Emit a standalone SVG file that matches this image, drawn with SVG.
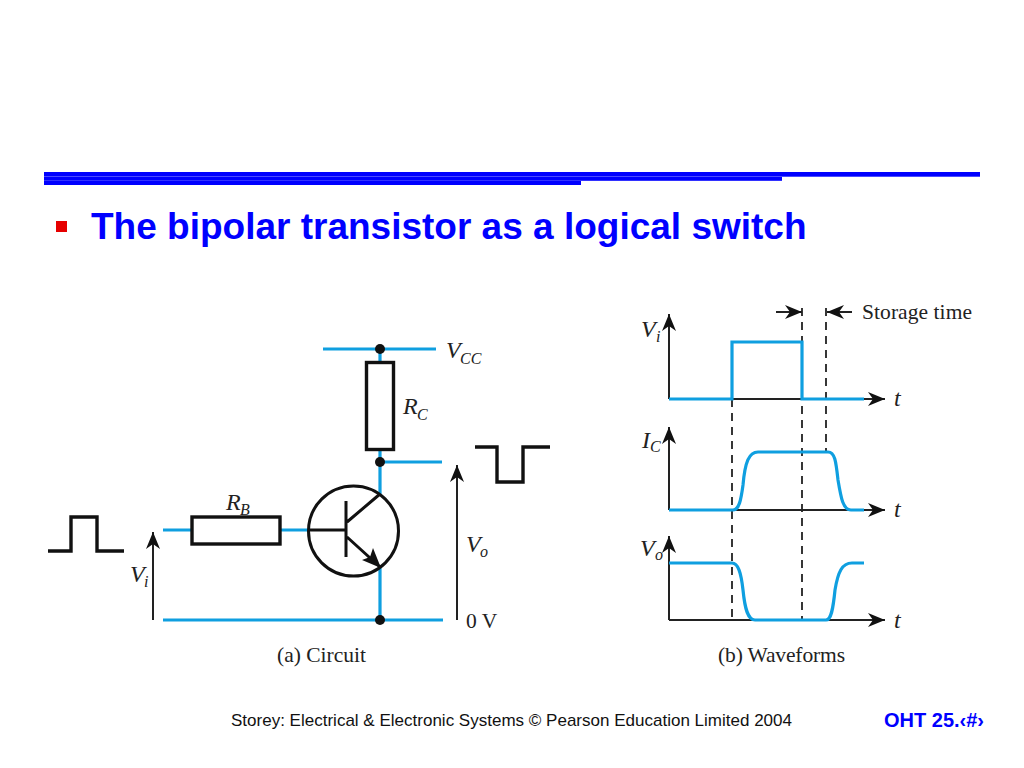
<svg xmlns="http://www.w3.org/2000/svg" width="1024" height="768" viewBox="0 0 1024 768">
<style>
.w{fill:none;stroke:#0f9fe0;stroke-width:3.2}
.k{fill:none;stroke:#111;stroke-width:3.4}
.t{fill:none;stroke:#222;stroke-width:2}
.d{fill:none;stroke:#222;stroke-width:1.8;stroke-dasharray:8 6}
.s{font-family:"Liberation Serif",serif;fill:#222;font-size:21.5px}
.i{font-family:"Liberation Serif",serif;fill:#222;font-size:24px;font-style:italic}
.u{font-family:"Liberation Serif",serif;fill:#222;font-size:16px;font-style:italic}
.f{font-family:"Liberation Sans",sans-serif}
</style>
<defs>
<marker id="a" markerUnits="userSpaceOnUse" markerWidth="18" markerHeight="14" refX="17" refY="7" orient="auto"><path d="M0 0L17 7L0 14L5 7Z" fill="#111"/></marker>
</defs>
<g id="header">
<rect x="44" y="172" width="936" height="4.700" fill="#0000ff"/>
<rect x="44" y="177" width="738" height="3.800" fill="#0000ff"/>
<rect x="44" y="181" width="537" height="4" fill="#0000ff"/>
<rect x="56" y="221" width="11" height="11" fill="#e60000"/>
<text x="91" y="239" class="f" font-size="37" font-weight="700" fill="#0000ff">The bipolar transistor as a logical switch</text>
</g>
<g id="connectors">
<path class="w" d="M323 349H436M380 349V362M380 449V494M380 567V620M380 462H442M163 530H192M280 530H308M163 620H443"/>
<path class="k" d="M48 551H71V517H97V551H124"/>
<path class="k" d="M475 447H497V482H523V447H550"/>
<path class="t" d="M153 620V532" marker-end="url(#a)"/>
<path class="t" d="M457 620V465" marker-end="url(#a)"/>
</g>
<g id="resistor-rc"><rect x="366.500" y="362.500" width="27" height="87" fill="#fff" class="k"/><text x="403" y="414" class="i">R</text><text x="417" y="420" class="u">C</text></g>
<g id="resistor-rb"><rect x="192" y="517" width="88" height="27" fill="#fff" class="k"/><text x="226" y="510" class="i">R</text><text x="240" y="515" class="u">B</text></g>
<g id="transistor">
<circle cx="353.500" cy="531" r="45" fill="none" stroke="#111" stroke-width="3"/>
<path fill="none" stroke="#111" stroke-width="3" d="M308 530H346M346 501V557M347 522L380 494M347 537L380 567"/>
<path d="M381 568L373 548L370 557L362 560Z" fill="#111"/>
</g>
<g id="junctions" fill="#111"><circle cx="380" cy="349" r="5"/><circle cx="380" cy="462" r="5"/><circle cx="380" cy="620" r="5"/></g>
<g id="circuit-labels">
<text x="446" y="358" class="i">V</text><text x="460" y="364" class="u">CC</text>
<text x="466" y="552" class="i">V</text><text x="480" y="557" class="u" font-size="12">o</text>
<text x="130" y="582" class="i">V</text><text x="144" y="587" class="u">i</text>
<text x="466" y="628" class="s">0 V</text>
<text x="277" y="662" class="s">(a) Circuit</text>
</g>
<g id="waveforms">
<path class="d" d="M732 399V620M802 308V620M826 308V452"/>
<path class="t" d="M669 399V314" marker-end="url(#a)"/>
<path class="t" d="M669 399H885" marker-end="url(#a)"/>
<path class="t" d="M669 510V427" marker-end="url(#a)"/>
<path class="t" d="M669 510H885" marker-end="url(#a)"/>
<path class="t" d="M669 620V536" marker-end="url(#a)"/>
<path class="t" d="M669 620H885" marker-end="url(#a)"/>
<path class="t" d="M776 312H802" marker-end="url(#a)"/>
<path class="t" d="M852 312H827" marker-end="url(#a)"/>
<path class="w" d="M669 399H732V342H802V399H864"/>
<path class="w" d="M669 510H733C739 510 741 500 743 485C745 462 749 452 758 452H828C835 452 836 462 838 480C841 498 843 510 851 510H864"/>
<path class="w" d="M669 563H732C738 563 741 572 743 590C745 610 748 620 755 620H826C831 620 833 610 835 590C838 572 842 563 852 563H864"/>
<text x="641" y="337" class="i">V</text><text x="656" y="342" class="u">i</text>
<text x="642" y="448" class="i">I</text><text x="650" y="452" class="u">C</text>
<text x="640" y="556" class="i">V</text><text x="655" y="560" class="u" font-size="12">o</text>
<text x="894" y="406" class="i" font-size="20">t</text><text x="894" y="517" class="i" font-size="20">t</text><text x="894" y="628" class="i" font-size="20">t</text>
<text x="862" y="319" class="s" textLength="110">Storage time</text>
<text x="718" y="662" class="s" textLength="127">(b) Waveforms</text>
</g>
<g id="footer">
<text x="231" y="726" class="f" font-size="17" textLength="561" lengthAdjust="spacingAndGlyphs" fill="#111">Storey: Electrical &amp; Electronic Systems © Pearson Education Limited 2004</text>
<text x="884" y="727" class="f" font-size="20" font-weight="700" textLength="100" lengthAdjust="spacingAndGlyphs" fill="#0000ff">OHT 25.‹#›</text>
</g>
</svg>
